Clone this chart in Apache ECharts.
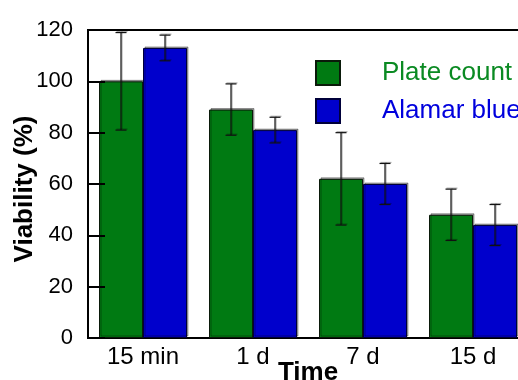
<!DOCTYPE html>
<html><head><meta charset="utf-8">
<script src="https://cdn.jsdelivr.net/npm/echarts@6/dist/echarts.min.js"></script>
<style>html,body{margin:0;padding:0;background:#fff}#c{width:518px;height:380px}</style>
</head><body><div id="c"></div>
<script>
const categories = ['15 min', '1 d', '7 d', '15 d'];
const plateCount = [100, 89, 62, 48];
const plateErr = [19, 10, 18, 10];
const alamarBlue = [113, 81, 60, 44];
const alamarErr = [5, 5, 8, 8];
const yTicks = [0, 20, 40, 60, 80, 100, 120];

const FONT = '"Liberation Sans", Arial, Helvetica, sans-serif';
const GREEN = '#007a12', BLUE = '#0000cc';
const shadow = {shadowColor: 'rgba(0,0,0,0.35)', shadowOffsetX: 1.5, shadowOffsetY: -1.5, shadowBlur: 0};

function errData(vals, errs) {
  return vals.map((v, i) => [i, v - errs[i], v + errs[i]]);
}
function errRender(sign) {
  return function (params, api) {
    const i = api.value(0);
    const lo = api.coord([i, api.value(1)]);
    const hi = api.coord([i, api.value(2)]);
    const band = api.size([1, 0])[0];
    const x = lo[0] + sign * band * 0.2;
    const c = 5.5;
    const st = {stroke: '#111', lineWidth: 1.2, shadowColor: 'rgba(0,0,0,0.3)', shadowOffsetX: 1, shadowOffsetY: -1};
    return {type: 'group', children: [
      {type: 'line', shape: {x1: x, y1: lo[1], x2: x, y2: hi[1]}, style: st},
      {type: 'line', shape: {x1: x - c, y1: lo[1], x2: x + c, y2: lo[1]}, style: st},
      {type: 'line', shape: {x1: x - c, y1: hi[1], x2: x + c, y2: hi[1]}, style: st}
    ]};
  };
}

const chart = echarts.init(document.getElementById('c'), null, {renderer: 'canvas'});
chart.setOption({
  animation: false,
  backgroundColor: '#fff',
  textStyle: {fontFamily: FONT},
  grid: {left: 88, top: 30, width: 440, height: 308, show: true, borderColor: '#000', borderWidth: 2,
    backgroundColor: 'transparent', containLabel: false, outerBoundsMode: 'none'},
  legend: {
    orient: 'vertical', left: 315, top: 60, padding: 0, itemWidth: 24, itemHeight: 24, itemGap: 12,
    icon: 'rect', selectedMode: false,
    textStyle: {fontFamily: FONT, fontSize: 26, lineHeight: 24, padding: [0, 0, 0, 37]},
    data: [
      {name: 'Plate count', textStyle: {color: '#0a8a22'}},
      {name: 'Alamar blue', textStyle: {color: '#0000dd'}}
    ]
  },
  xAxis: {
    type: 'category', data: categories,
    name: 'Time', nameLocation: 'middle', nameGap: 22, nameMoveOverlap: false,
    nameTextStyle: {fontFamily: FONT, fontSize: 26, fontWeight: 'bold', color: '#000'},
    axisLine: {show: true, lineStyle: {color: '#000', width: 2}},
    axisTick: {show: false},
    axisLabel: {fontFamily: FONT, fontSize: 24, color: '#000', margin: 7},
    splitLine: {show: false}
  },
  yAxis: {
    type: 'value', min: 0, max: 120, interval: 20, z: 10,
    name: 'Viability (%)', nameLocation: 'middle', nameGap: 50, nameMoveOverlap: false,
    nameTextStyle: {fontFamily: FONT, fontSize: 26, fontWeight: 'bold', color: '#000', padding: [0, 10, 0, 0]},
    axisLine: {show: true, lineStyle: {color: '#000', width: 2}},
    axisTick: {show: true, inside: true, length: 17, lineStyle: {color: '#000', width: 2}},
    axisLabel: {fontFamily: FONT, fontSize: 22, color: '#000', margin: 15, padding: [0, 0, 6, 0],
      formatter: v => yTicks.includes(v) ? String(v) : ''},
    splitLine: {show: false}
  },
  series: [
    {name: 'Plate count', type: 'bar', data: plateCount, barWidth: '40%', barGap: '0%',
      itemStyle: Object.assign({color: GREEN, borderColor: '#0a1a0a', borderWidth: 1}, shadow)},
    {name: 'Alamar blue', type: 'bar', data: alamarBlue, barWidth: '40%', barGap: '0%',
      itemStyle: Object.assign({color: BLUE, borderColor: '#00003a', borderWidth: 1}, shadow)},
    {type: 'custom', name: 'pcErr', data: errData(plateCount, plateErr), renderItem: errRender(-1),
      encode: {x: 0, y: [1, 2]}, z: 5, silent: true},
    {type: 'custom', name: 'abErr', data: errData(alamarBlue, alamarErr), renderItem: errRender(1),
      encode: {x: 0, y: [1, 2]}, z: 5, silent: true}
  ]
});
</script></body></html>
